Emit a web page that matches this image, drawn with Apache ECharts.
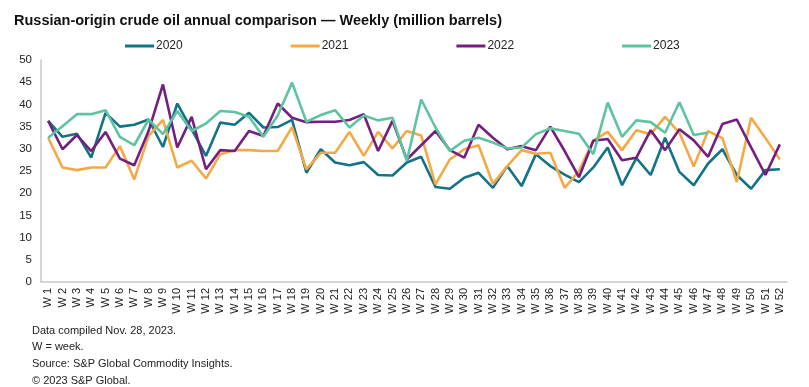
<!DOCTYPE html>
<html>
<head>
<meta charset="utf-8">
<script src="https://cdn.jsdelivr.net/npm/echarts@6/dist/echarts.min.js"></script>
<style>
html,body{margin:0;padding:0;background:#fff;}
#c{width:809px;height:387px;}
</style>
</head>
<body>
<div id="c"></div>
<script>
const weeks = Array.from({length: 52}, (_, i) => 'W ' + (i + 1));
const yTicks = [0, 5, 10, 15, 20, 25, 30, 35, 40, 45, 50];
const s2020 = [36.3,32.7,33.4,28.0,38.1,35.0,35.4,36.6,30.4,40.2,
  34.4,28.4,35.9,35.4,38.1,34.8,34.9,36.5,24.6,29.9,
  26.9,26.3,27.0,24.1,24.0,26.9,28.2,21.4,21.0,23.5,
  24.6,21.2,26.1,21.6,28.8,26.1,24.2,22.5,25.8,30.3,
  21.8,27.9,24.1,32.5,24.8,21.8,26.7,29.9,24.1,21.0,25.2,25.4];
const s2021 = [32.5,25.8,25.2,25.8,25.8,30.6,23.1,32.9,36.5,25.8,
  27.3,23.3,28.8,29.7,29.7,29.5,29.5,34.9,25.4,29.1,
  29.1,33.8,28.4,33.8,30.1,34.0,33.0,22.0,27.6,29.9,
  30.8,22.1,26.1,29.7,28.9,29.1,21.2,25.0,31.9,33.8,
  29.7,34.2,33.3,37.2,33.6,26.0,34.0,32.4,22.5,37.0,32.4,27.6];
const s2022 = [36.3,29.9,33.1,29.5,33.8,27.8,26.3,34.0,44.5,30.3,
  37.2,25.4,29.7,29.5,34.0,32.9,40.2,37.0,36.0,36.1,
  36.1,36.5,37.8,29.5,36.3,27.6,30.8,34.0,29.7,28.0,
  35.4,32.5,29.9,30.6,29.7,35.0,29.5,23.6,31.8,32.2,
  27.4,28.0,34.2,29.7,34.4,31.9,28.2,35.6,36.6,30.3,24.1,31.0];
const s2023 = [32.5,35.1,37.8,37.8,38.7,32.7,30.8,36.6,33.3,38.5,
  34.0,35.7,38.5,38.3,37.2,32.7,37.5,44.9,36.1,37.6,
  38.7,34.8,37.5,36.4,37.0,27.3,41.1,34.8,29.5,31.8,
  32.5,31.4,30.1,30.3,33.3,34.6,34.0,33.4,28.8,40.4,
  32.7,36.4,36.0,33.6,40.5,33.1,33.6];
const seriesNames = ['2020', '2021', '2022', '2023'];
const colors = ['#137386', '#f5a946', '#741f80', '#5dc3a1'];
const footnotes = ['Data compiled Nov. 28, 2023.', 'W = week.', 'Source: S&P Global Commodity Insights.', '\u00a9 2023 S&P Global.'];

const font = '"Liberation Sans", Arial, sans-serif';
const chart = echarts.init(document.getElementById('c'), null, {renderer: 'canvas'});
const data = [s2020, s2021, s2022, s2023];
chart.setOption({
  animation: false,
  textStyle: {fontFamily: font},
  title: [{
    text: 'Russian-origin crude oil annual comparison \u2014 Weekly (million barrels)',
    left: 9, top: 8,
    textStyle: {fontFamily: font, fontSize: 14.5, fontWeight: 'bold', color: '#111'}
  }].concat(footnotes.map((t, i) => ({
    text: t, left: 27, top: 320 + i * 16.8,
    textStyle: {fontFamily: font, fontSize: 11, fontWeight: 'normal', color: '#222'}
  }))),
  legend: {
    data: seriesNames,
    top: 35,
    left: 120,
    itemWidth: 29,
    itemHeight: 3,
    itemGap: 108,
    icon: 'rect',
    textStyle: {fontFamily: font, fontSize: 12, color: '#222', padding: [0, 0, 0, -3]}
  },
  grid: {left: 41, right: 22, top: 60, bottom: 105, containLabel: false},
  xAxis: {
    type: 'category',
    data: weeks,
    boundaryGap: true,
    axisLine: {lineStyle: {color: '#c8c8c8', width: 1.5}},
    axisTick: {show: false},
    axisLabel: {rotate: 90, interval: 0, fontSize: 11, color: '#222', margin: 6}
  },
  yAxis: {
    type: 'value', min: 0, max: 50, interval: 5,
    axisLine: {show: true, lineStyle: {color: '#c8c8c8', width: 1.5}},
    axisTick: {show: false},
    splitLine: {show: false},
    axisLabel: {fontSize: 11.5, color: '#222', margin: 9}
  },
  series: seriesNames.map((n, i) => ({
    name: n, type: 'line', data: data[i],
    symbol: 'none',
    lineStyle: {color: colors[i], width: 2.6},
    itemStyle: {color: colors[i]}
  }))
});
</script>
</body>
</html>
